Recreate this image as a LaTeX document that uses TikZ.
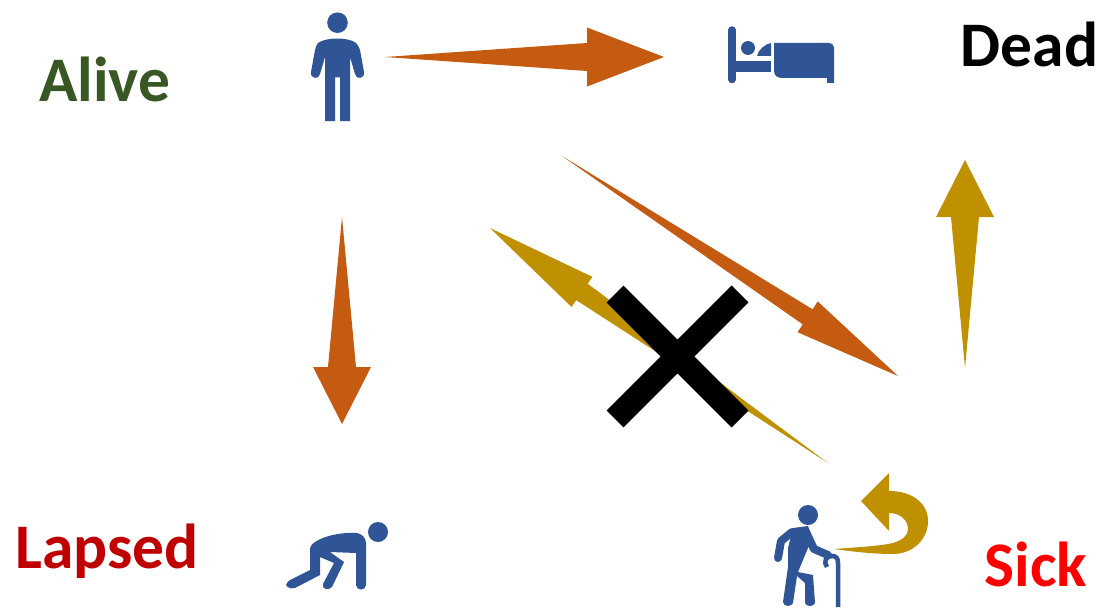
\documentclass[tikz,border=0pt]{standalone}
\usepackage{fontspec}
\setmainfont{Carlito}
\usetikzlibrary{calc}
\definecolor{rust}{HTML}{C55A11}
\definecolor{gold}{HTML}{BF9000}
\definecolor{iconblue}{HTML}{2F5597}
\definecolor{alivegreen}{HTML}{385723}
\definecolor{lapsedred}{HTML}{C00000}
\tikzset{
  lab/.style={font=\fontsize{63.5}{63.5}\selectfont\bfseries,inner sep=0pt,anchor=base west},
  icon/.style={fill=iconblue,draw=none},
  limb/.style={draw=iconblue,line cap=round,line join=round},
}
% tail, tip, head length, head half-width, neck half-width, colour
\newcommand{\taper}[6]{%
  \fill[#6] (#1)
    -- ($($(#2)!#3pt!(#1)$)!#5pt!90:(#2)$)
    -- ($($(#2)!#3pt!(#1)$)!#4pt!90:(#2)$)
    -- (#2)
    -- ($($(#2)!#3pt!(#1)$)!#4pt!-90:(#2)$)
    -- ($($(#2)!#3pt!(#1)$)!#5pt!-90:(#2)$)
    -- cycle;}
\begin{document}
\begin{tikzpicture}[x=1pt,y=-1pt]
\useasboundingbox (0,0) rectangle (1099,607);
% labels
\node[lab,text=alivegreen] (alive) at (39,101.5) {Alive};
\node[lab,text=black] (dead) at (960.5,66.5) {Dead};
\node[lab,text=lapsedred] (lapsed) at (15,568) {Lapsed};
\node[lab,text=red] (sick) at (984.5,586) {Sick};
% arrow ends
\coordinate (a1) at (385,57); \coordinate (a2) at (664,57);
\coordinate (b1) at (342,217); \coordinate (b2) at (342,424);
\coordinate (c1) at (562,156); \coordinate (c2) at (898,376);
\coordinate (d1) at (828,463); \coordinate (d2) at (490,228);
\coordinate (e1) at (965,368); \coordinate (e2) at (965,160);
\taper{a1}{a2}{77}{29.5}{14}{rust}
\taper{b1}{b2}{57}{29}{14}{rust}
\taper{c1}{c2}{108}{18.4}{9}{rust}
\taper{d1}{d2}{112}{18.3}{10}{gold}
\taper{e1}{e2}{57}{29}{14}{gold}
% cross
\coordinate (x1) at (615,294); \coordinate (x2) at (740,419);
\coordinate (x3) at (740,294); \coordinate (x4) at (615,419);
\draw[line width=24pt,black] (x1) -- (x2) (x3) -- (x4);
% U-turn arrow
\fill[gold] (834,549) .. controls (860,547) and (880,546) .. (893,543)
  .. controls (903,540) and (908,535) .. (908,529)
  .. controls (908,520) and (900,513) .. (889,513)
  -- (889,531) -- (861,501) -- (889,473) -- (889,491)
  .. controls (912,491) and (928,503) .. (928,521)
  .. controls (928,540) and (912,554) .. (893,554)
  .. controls (875,554) and (855,552) .. (834,549) -- cycle;
% person standing
\fill[icon] (337.5,22.7) circle (10.3);
\fill[icon] (318,43) .. controls (326,37) and (349,37) .. (356,43)
  .. controls (358,45) and (359,47) .. (360,50) -- (364,72)
  .. controls (365,79) and (356,80) .. (355,74) -- (350,57)
  -- (350,121) -- (340,121) -- (340,77.5) -- (335,77.5) -- (335,121) -- (325,121)
  -- (325,57) -- (320,74) .. controls (319,80) and (310,79) .. (311,72)
  -- (315,50) .. controls (316,47) and (316,45) .. (318,43) -- cycle;
% bed
\draw[limb,line width=7.5pt] (732,30) -- (732,79.5);
\fill[icon] (732,61) rectangle (771,72);
\fill[icon] (748,48) circle (7);
\fill[icon] (757,56) .. controls (758,50) and (765,44) .. (771,43) -- (771,56) -- cycle;
\fill[icon] (774,43) -- (828,43) .. controls (832,43) and (834,45) .. (834,49) -- (834,83) -- (827,83) -- (827,78)
  -- (782,78) .. controls (777,78) and (774,75) .. (774,71) -- cycle;
% crawling person
\fill[icon] (378,532) circle (10);
\fill[icon] (315,542) .. controls (325,535) and (345,532) .. (357,533)
  .. controls (362,534) and (366,538) .. (366,543) -- (366,585)
  .. controls (366,591) and (356,591) .. (356,585) -- (356,553) -- (330,552) -- (344,562)
  -- (332,587) .. controls (329,591) and (321,589) .. (323,584) -- (334,563) -- (320,557) -- (320,575)
  -- (295,588) .. controls (289,590) and (284,585) .. (287,583) .. controls (288,581) and (290,580) .. (292,579) -- (310,570) -- (310,550)
  .. controls (310,546) and (312,544) .. (315,542) -- cycle;
% old man
\fill[icon] (808,515) circle (10);
\fill[icon] (793,528) -- (808,526) -- (813,540) -- (808,548) -- (798,572) -- (813,575)
  -- (815,603) .. controls (814,607) and (806,607) .. (805,603)
  -- (805,583) -- (797,576) -- (793,603) .. controls (792,607) and (783,607) .. (783,602)
  -- (788,567) -- (788,548) -- cycle;
\draw[limb,line width=8pt] (792,532) -- (781,541) -- (778,558);
\draw[limb,line width=8pt] (806,532) -- (814,549) -- (828,555);
\draw[draw=iconblue,line width=4.5pt] (827,567) .. controls (823,562) and (826,556) .. (832,556) .. controls (836,556) and (838,558) .. (838,563) -- (838,607);
\end{tikzpicture}
\end{document}
